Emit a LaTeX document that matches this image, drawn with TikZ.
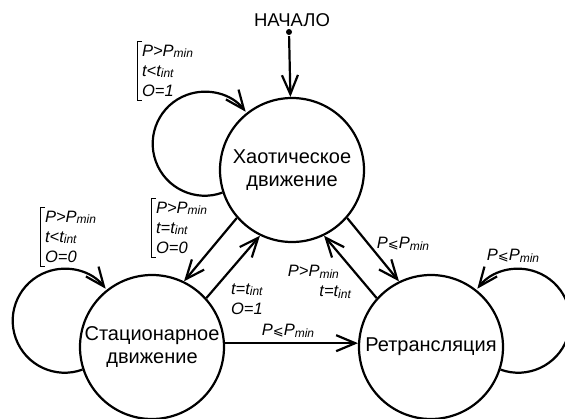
\documentclass[tikz,border=0pt]{standalone}
\usepackage{fontspec}
\setmainfont{Liberation Sans}
\newfontfamily\symfont{DejaVu Sans}
\usetikzlibrary{arrows.meta}
\newcommand{\lo}[1]{\raisebox{-1.5pt}{\fontsize{12}{12}\selectfont #1}}
\newcommand{\leqs}{{\symfont\fontsize{13}{13}\selectfont ⩽}}

\begin{document}
\begin{tikzpicture}[x=1pt, y=1pt, line width=2.2pt, >={Straight Barb[length=19pt,width=16pt]},
    state/.style={draw, circle, minimum size=144pt, inner sep=0pt, align=center, font=\fontsize{20}{23}\selectfont},
    cond/.style={align=left, font=\fontsize{16.5}{20}\selectfont\itshape, inner xsep=4pt, inner ysep=3pt},
    brk/.style={cond, append after command={([xshift=5pt]\tikzlastnode.north west) edge[line width=1pt] (\tikzlastnode.north west)
      (\tikzlastnode.north west) edge[line width=1pt] (\tikzlastnode.south west)
      (\tikzlastnode.south west) edge[line width=1pt] ([xshift=5pt]\tikzlastnode.south west)}}]
  \useasboundingbox (0,0) rectangle (565,-418);
  \node[state] (chaos) at (292,-170) {Хаотическое\\движение};
  \node[state] (stat) at (152,-347) {Стационарное\\движение};
  \node[state] (relay) at (431,-347) {Ретрансляция};
  \node[font=\fontsize{18.5}{20}\selectfont] (begin) at (292,-20) {НАЧАЛО};
  \node[circle, fill, inner sep=0pt, minimum size=6pt] (dot) at (289,-32) {};
  \draw[->] (dot) -- (chaos);
  \draw[->] (chaos.198) arc[start angle=-70, end angle=-322, radius=52];
  \draw[->] (stat.198) arc[start angle=-70, end angle=-322, radius=52];
  \draw[->] (relay.342) arc[start angle=250, end angle=502, radius=52];
  \draw[->] (chaos.221) -- (stat.64);
  \draw[->] (stat.42) -- (chaos.244);
  \draw[->] (chaos.319) -- (relay.116);
  \draw[->] (relay.138) -- (chaos.296);
  \draw[->] (stat.3) -- (relay.177);
  \node[brk, anchor=north west] (c1) at (137,-41) {P>P\lo{min}\\t<t\lo{int}\\O=1};
  \node[brk, anchor=north west] (c2) at (40,-207) {P>P\lo{min}\\t<t\lo{int}\\O=0};
  \node[brk, anchor=north west] (c3) at (151,-198) {P>P\lo{min}\\t=t\lo{int}\\O=0};
  \node[cond, anchor=west] (c4) at (226,-299) {t=t\lo{int}\\O=1};
  \node[cond] (c5) at (288,-331) {P\leqs P\lo{min}};
  \node[cond] (c6) at (403,-244) {P\leqs P\lo{min}};
  \node[cond, align=right, anchor=east] (c7) at (356,-282) {P>P\lo{min}\hspace*{12pt}\\t=t\lo{int}};
  \node[cond] (c8) at (513,-256) {P\leqs P\lo{min}};
\end{tikzpicture}
\end{document}
